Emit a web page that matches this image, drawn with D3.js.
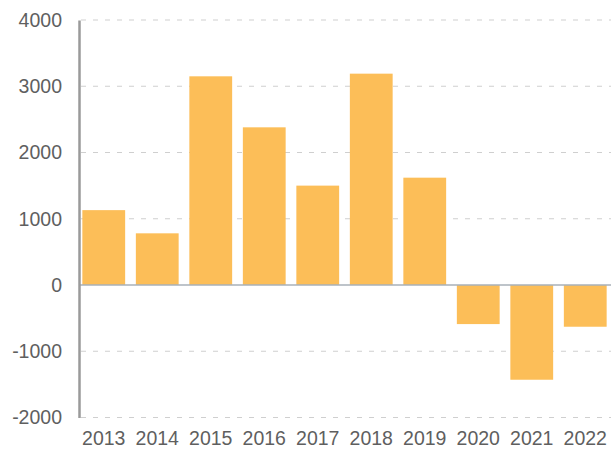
<!DOCTYPE html>
<html>
<head>
<meta charset="utf-8">
<script src="https://cdn.jsdelivr.net/npm/d3@7"></script>
<style>
  html, body { margin: 0; padding: 0; background: #fff; }
  svg { display: block; }
</style>
</head>
<body>
<svg id="chart" width="611" height="458"></svg>
<script>
// Annual values, 2013–2022
const years = ["2013", "2014", "2015", "2016", "2017", "2018", "2019", "2020", "2021", "2022"];
const values = [1130, 780, 3150, 2380, 1500, 3190, 1620, -590, -1430, -630];
const yTicks = [-2000, -1000, 0, 1000, 2000, 3000, 4000];

const svg = d3.select("#chart");
const axisX = 79;
const labelFont = "'Liberation Sans', Arial, sans-serif";

const x = d3.scaleBand()
  .domain(years)
  .range([77, 612])
  .paddingInner(0.2)
  .paddingOuter(0.1);

const y = d3.scaleLinear()
  .domain([-2000, 4000])
  .range([417.5, 20]);

// Dashed horizontal gridlines
svg.append("g")
  .selectAll("line")
  .data(yTicks.filter(d => d !== 0))
  .join("line")
  .attr("x1", axisX + 2)
  .attr("x2", 611)
  .attr("y1", d => y(d))
  .attr("y2", d => y(d))
  .attr("stroke", "#cfcfcf")
  .attr("stroke-width", 1)
  .attr("stroke-dasharray", "5,7");

// Bars
svg.append("g")
  .selectAll("rect")
  .data(values)
  .join("rect")
  .attr("x", (d, i) => x(years[i]))
  .attr("width", x.bandwidth())
  .attr("y", d => y(Math.max(0, d)))
  .attr("height", d => Math.abs(y(d) - y(0)))
  .attr("fill", "#fcbe58");

// Zero baseline
svg.append("line")
  .attr("x1", axisX)
  .attr("x2", 611)
  .attr("y1", y(0))
  .attr("y2", y(0))
  .attr("stroke", "#a9b0b8")
  .attr("stroke-width", 1.5);

// Y axis (plain hyphen for negatives)
const yAxis = d3.axisLeft(y)
  .tickValues(yTicks)
  .tickSize(0)
  .tickPadding(17)
  .tickFormat(d => String(d));

const gy = svg.append("g")
  .attr("transform", `translate(${axisX},0)`)
  .call(yAxis);
gy.select(".domain").attr("stroke", "#9a9a9a").attr("stroke-width", 2.5);
gy.selectAll("text")
  .attr("fill", "#5f5f5f")
  .style("font-family", labelFont)
  .style("font-size", "19.5px");

// X axis labels
const xAxis = d3.axisBottom(x).tickSize(0).tickPadding(14);
const gx = svg.append("g")
  .attr("transform", `translate(0,${y(-2000)})`)
  .call(xAxis);
gx.select(".domain").remove();
gx.selectAll("text")
  .attr("fill", "#5f5f5f")
  .style("font-family", labelFont)
  .style("font-size", "19.5px");
</script>
</body>
</html>
